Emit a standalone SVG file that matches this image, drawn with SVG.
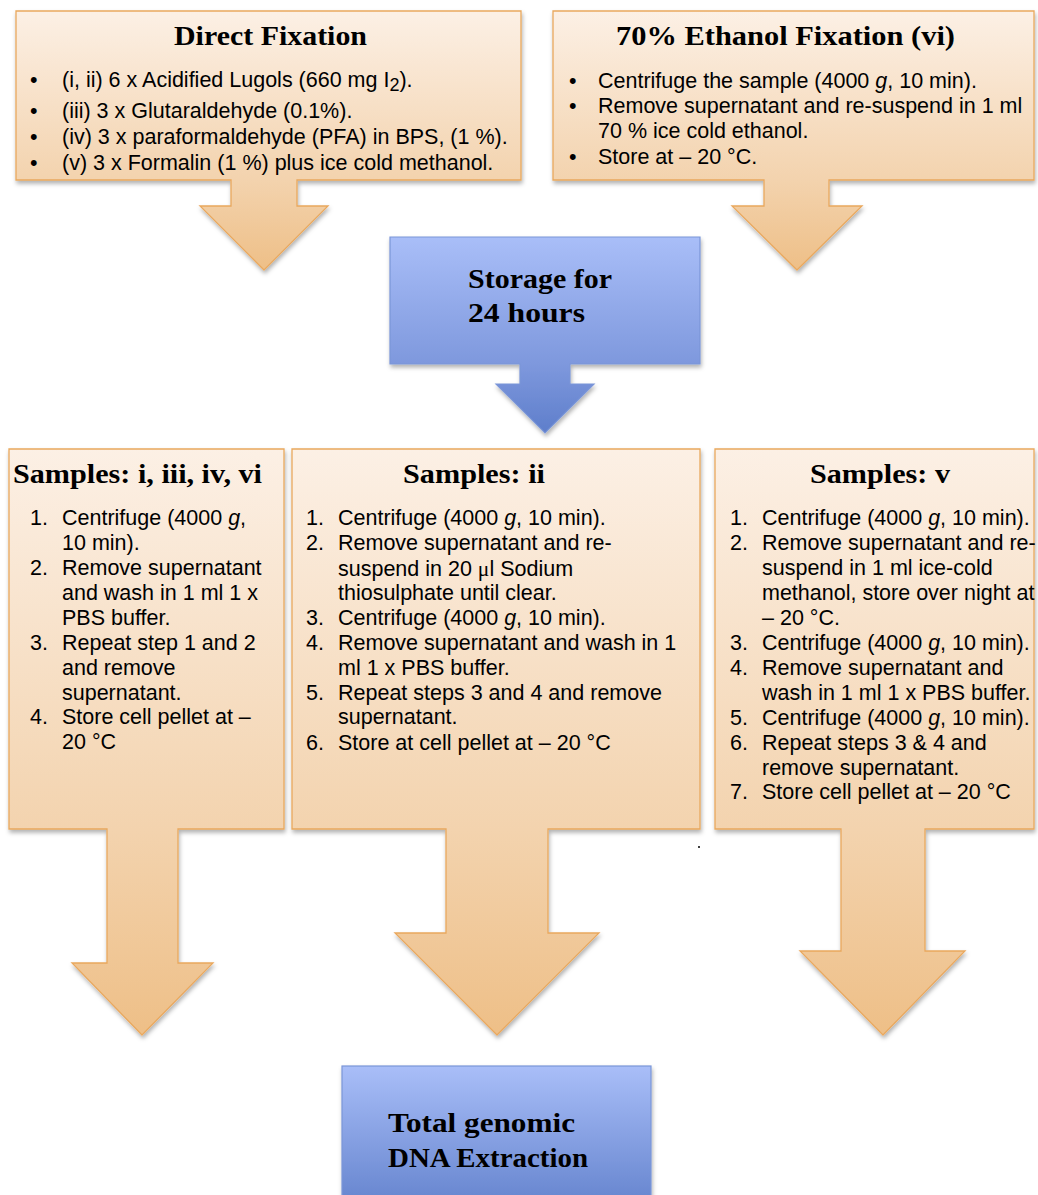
<svg xmlns="http://www.w3.org/2000/svg" width="1038" height="1195" viewBox="0 0 1038 1195">
<defs>
<linearGradient id="og" x1="0" y1="0" x2="0" y2="1">
<stop offset="0" stop-color="#FCF0E5"/>
<stop offset="0.65" stop-color="#F3D3AE"/>
<stop offset="1" stop-color="#EEBF87"/>
</linearGradient>
<linearGradient id="bg" x1="0" y1="0" x2="0" y2="1">
<stop offset="0" stop-color="#A9BEF8"/>
<stop offset="0.65" stop-color="#7E98DD"/>
<stop offset="1" stop-color="#5E7ECB"/>
</linearGradient>
<linearGradient id="bg2" x1="0" y1="0" x2="0" y2="1">
<stop offset="0" stop-color="#A9BEF8"/>
<stop offset="1" stop-color="#6584CE"/>
</linearGradient>
<filter id="sh" x="-5%" y="-5%" width="110%" height="115%">
<feDropShadow dx="1" dy="3" stdDeviation="2" flood-color="#000" flood-opacity="0.3"/>
</filter>
</defs>
<style>
.o{fill:url(#og);stroke:#E9A85E;stroke-width:1.3;filter:url(#sh)}
.b{fill:url(#bg);stroke:#7B96D8;stroke-width:1.2;filter:url(#sh)}
.b2{fill:url(#bg2);stroke:#7B96D8;stroke-width:1.2;filter:url(#sh)}
.t{font-family:"Liberation Serif","Times New Roman",serif;font-weight:bold;font-size:27px;fill:#000}
.s{font-family:"Liberation Sans",Arial,sans-serif;font-size:21.5px;fill:#000}
.i{font-style:italic}
</style>

<g id="connectors"></g>

<g id="direct-fixation">
<polygon class="o" points="16,11 521,11 521,180 297,180 297,206 328,206 264,270 200,206 231,206 231,180 16,180"/>
<text class="t" x="174" y="45" textLength="193" lengthAdjust="spacingAndGlyphs">Direct Fixation</text>
<text class="s" x="30" y="87">•</text>
<text class="s" x="62" y="87">(i, ii) 6 x Acidified Lugols (660 mg I<tspan font-size="18" dy="4">2</tspan><tspan dy="-4">).</tspan></text>
<text class="s" x="30" y="118">•</text>
<text class="s" x="62" y="118">(iii) 3 x Glutaraldehyde (0.1%).</text>
<text class="s" x="30" y="144">•</text>
<text class="s" x="62" y="144">(iv) 3 x paraformaldehyde (PFA) in BPS, (1 %).</text>
<text class="s" x="30" y="170">•</text>
<text class="s" x="62" y="170">(v) 3 x Formalin (1 %) plus ice cold methanol.</text>
</g>

<g id="ethanol-fixation">
<polygon class="o" points="553,11 1034,11 1034,180 829,180 829,206 862,206 797,270 732,206 764,206 764,180 553,180"/>
<text class="t" x="616" y="45" textLength="339" lengthAdjust="spacingAndGlyphs">70% Ethanol Fixation (vi)</text>
<text class="s" x="569" y="88">•</text>
<text class="s" x="598" y="88">Centrifuge the sample (4000 <tspan class="i">g</tspan>, 10 min).</text>
<text class="s" x="569" y="113">•</text>
<text class="s" x="598" y="113">Remove supernatant and re-suspend in 1 ml</text>
<text class="s" x="598" y="138">70 % ice cold ethanol.</text>
<text class="s" x="569" y="164">•</text>
<text class="s" x="598" y="164">Store at – 20 °C.</text>
</g>

<g id="storage">
<polygon class="b" points="390,237 700,237 700,364 570,364 570,384 594,384 545,433 496,384 520,384 520,364 390,364"/>
<text class="t" x="468" y="288" textLength="144" lengthAdjust="spacingAndGlyphs">Storage for</text>
<text class="t" x="468" y="322" textLength="117" lengthAdjust="spacingAndGlyphs">24 hours</text>
</g>

<g id="samples-i-iii-iv-vi">
<polygon class="o" points="9,449 284,449 284,829 178,829 178,963 213,963 142,1035 72,963 107,963 107,829 9,829"/>
<text class="t" x="13" y="483" textLength="249" lengthAdjust="spacingAndGlyphs">Samples: i, iii, iv, vi</text>
<text class="s" x="30" y="525">1.</text>
<text class="s" x="62" y="525">Centrifuge (4000 <tspan class="i">g</tspan>,</text>
<text class="s" x="62" y="550">10 min).</text>
<text class="s" x="30" y="575">2.</text>
<text class="s" x="62" y="575">Remove supernatant</text>
<text class="s" x="62" y="600">and wash in 1 ml 1 x</text>
<text class="s" x="62" y="625">PBS buffer.</text>
<text class="s" x="30" y="650">3.</text>
<text class="s" x="62" y="650">Repeat step 1 and 2</text>
<text class="s" x="62" y="675">and remove</text>
<text class="s" x="62" y="700">supernatant.</text>
<text class="s" x="30" y="724">4.</text>
<text class="s" x="62" y="724">Store cell pellet at –</text>
<text class="s" x="62" y="749">20 °C</text>
</g>

<g id="samples-ii">
<polygon class="o" points="292,449 700,449 700,829 548,829 548,933 599,933 497,1035 395,933 446,933 446,829 292,829"/>
<text class="t" x="403" y="483" textLength="142" lengthAdjust="spacingAndGlyphs">Samples: ii</text>
<text class="s" x="306" y="525">1.</text>
<text class="s" x="338" y="525">Centrifuge (4000 <tspan class="i">g</tspan>, 10 min).</text>
<text class="s" x="306" y="550">2.</text>
<text class="s" x="338" y="550">Remove supernatant and re-</text>
<text class="s" x="338" y="576">suspend in 20 <tspan font-family="'Liberation Serif',serif">μ</tspan>l Sodium</text>
<text class="s" x="338" y="600">thiosulphate until clear.</text>
<text class="s" x="306" y="625">3.</text>
<text class="s" x="338" y="625">Centrifuge (4000 <tspan class="i">g</tspan>, 10 min).</text>
<text class="s" x="306" y="650">4.</text>
<text class="s" x="338" y="650">Remove supernatant and wash in 1</text>
<text class="s" x="338" y="675">ml 1 x PBS buffer.</text>
<text class="s" x="306" y="700">5.</text>
<text class="s" x="338" y="700">Repeat steps 3 and 4 and remove</text>
<text class="s" x="338" y="724">supernatant.</text>
<text class="s" x="306" y="750" font-family="'Liberation Serif',serif">6.</text>
<text class="s" x="338" y="750">Store at cell pellet at – 20 °C</text>
</g>

<g id="samples-v">
<polygon class="o" points="715,449 1034,449 1034,829 925,829 925,951 965,951 883,1035 800,951 841,951 841,829 715,829"/>
<text class="t" x="810" y="483" textLength="140" lengthAdjust="spacingAndGlyphs">Samples: v</text>
<text class="s" x="730" y="525">1.</text>
<text class="s" x="762" y="525">Centrifuge (4000 <tspan class="i">g</tspan>, 10 min).</text>
<text class="s" x="730" y="550">2.</text>
<text class="s" x="762" y="550">Remove supernatant and re-</text>
<text class="s" x="762" y="575">suspend in 1 ml ice-cold</text>
<text class="s" x="762" y="600">methanol, store over night at</text>
<text class="s" x="762" y="625">– 20 °C.</text>
<text class="s" x="730" y="650">3.</text>
<text class="s" x="762" y="650">Centrifuge (4000 <tspan class="i">g</tspan>, 10 min).</text>
<text class="s" x="730" y="675">4.</text>
<text class="s" x="762" y="675">Remove supernatant and</text>
<text class="s" x="762" y="700">wash in 1 ml 1 x PBS buffer.</text>
<text class="s" x="730" y="725">5.</text>
<text class="s" x="762" y="725">Centrifuge (4000 <tspan class="i">g</tspan>, 10 min).</text>
<text class="s" x="730" y="750">6.</text>
<text class="s" x="762" y="750">Repeat steps 3 &amp; 4 and</text>
<text class="s" x="762" y="775">remove supernatant.</text>
<text class="s" x="730" y="799">7.</text>
<text class="s" x="762" y="799">Store cell pellet at – 20 °C</text>
</g>

<g id="dna-extraction">
<rect class="b2" x="342" y="1066" width="309" height="140"/>
<text class="t" x="388" y="1132" textLength="187" lengthAdjust="spacingAndGlyphs">Total genomic</text>
<text class="t" x="388" y="1167" textLength="200" lengthAdjust="spacingAndGlyphs">DNA Extraction</text>
</g>

<circle cx="699" cy="847" r="1" fill="#000"/>
</svg>
